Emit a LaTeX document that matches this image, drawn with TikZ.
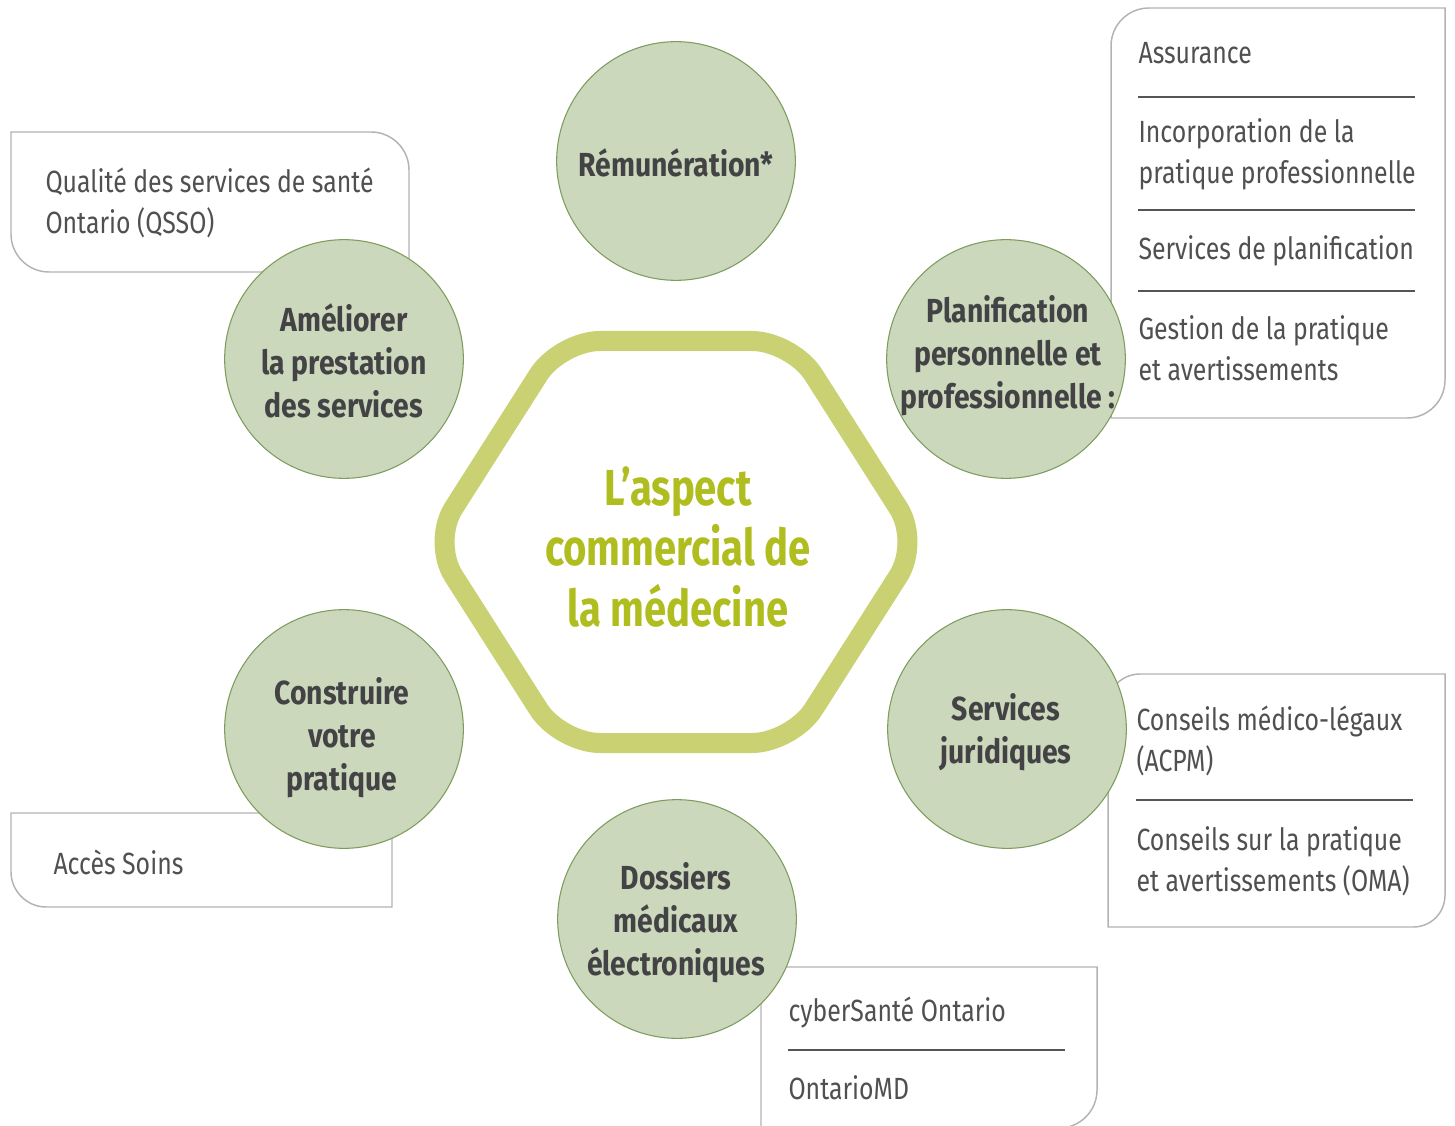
\documentclass[tikz,border=0pt]{standalone}
\usepackage{fontspec}
\setmainfont{Fira Sans}[FakeStretch=0.81]
\newfontfamily\topicfont{Fira Sans}[FakeStretch=0.85]
\newfontfamily\hubfont{Fira Sans}[FakeStretch=0.79]

\definecolor{circfill}{HTML}{CBD8BC}
\definecolor{circline}{HTML}{7E9C5E}
\definecolor{hexline}{HTML}{C9D172}
\definecolor{hextext}{HTML}{AFBD1F}
\definecolor{darktext}{HTML}{434345}
\definecolor{boxtext}{HTML}{505050}
\definecolor{boxgray}{HTML}{B3B3B3}
\definecolor{sepgray}{HTML}{555555}

\tikzset{every picture/.style={line width=0.75pt}}
\tikzset{
  topic/.style={circle, draw=circline, line width=0.8pt, fill=circfill, minimum size=179pt, inner sep=0pt},
  topictext/.style={align=center, inner sep=0pt, text=darktext, font=\topicfont\bfseries\fontsize{25}{32.25}\selectfont},
  item/.style={anchor=west, inner sep=0pt, align=left, text=boxtext, font=\fontsize{23}{30.75}\selectfont},
  panel/.style={draw=boxgray, line width=1.1pt, fill=white},
  rule/.style={draw=sepgray, line width=1pt}
}

\begin{document}
\begin{tikzpicture}[x=0.75pt,y=0.75pt,yscale=-1,xscale=1]
\useasboundingbox (0,0) rectangle (1455,1126);
\clip (0,0) rectangle (1455,1126);

%Shape: Hexagon
\draw [draw=hexline, line width=15pt, rounded corners=30pt] (676,341) -- (792,341) -- (920,542) -- (792,743) -- (560,743) -- (432,542) -- (560,341) -- cycle ;

%Shape: Box QSSO
\draw [panel] (11,132) -- (371,132) .. controls (392,132) and (409,149) .. (409,170) -- (409,272) -- (49,272) .. controls (28,272) and (11,255) .. (11,234) -- cycle ;
%Shape: Box planification
\draw [panel] (1111,46) .. controls (1111,25) and (1128,8) .. (1149,8) -- (1445,8) -- (1445,380) .. controls (1445,401) and (1428,418) .. (1407,418) -- (1111,418) -- cycle ;
%Shape: Box acces
\draw [panel] (11,813) -- (392,813) -- (392,907) -- (46,907) .. controls (27,907) and (11,891) .. (11,872) -- cycle ;
%Shape: Box dossiers
\draw [panel] (761,967) -- (1097,967) -- (1097,1090) .. controls (1097,1111) and (1080,1128) .. (1059,1128) -- (761,1128) -- cycle ;
%Shape: Box juridiques
\draw [panel] (1108,706) .. controls (1108,688) and (1122,674) .. (1140,674) -- (1445,674) -- (1445,895) .. controls (1445,913) and (1431,927) .. (1413,927) -- (1108,927) -- cycle ;

%Separators
\draw [rule] (1138,97) -- (1415,97) ;
\draw [rule] (1138,210) -- (1415,210) ;
\draw [rule] (1138,291) -- (1415,291) ;
\draw [rule] (1136,800) -- (1413,800) ;
\draw [rule] (788,1050) -- (1065,1050) ;

% Box texts
\node [item] (qsso) at (45,203) {Qualité des services de santé\\Ontario (QSSO)};
\node [item] (assur) at (1138,53) {Assurance};
\node [item] (incorp) at (1138,154) {Incorporation de la\\pratique professionnelle};
\node [item] (plan) at (1138,251) {Services de planification};
\node [item] (gest) at (1138,348) {Gestion de la pratique\\et avertissements};
\node [item] (acces) at (53,862) {Accès Soins};
\node [item] (cyber) at (788,1012) {cyberSanté Ontario};
\node [item] (omd) at (788,1088) {OntarioMD};
\node [item] (acpm) at (1136,741) {Conseils médico-légaux\\(ACPM)};
\node [item] (oma) at (1136,861) {Conseils sur la pratique\\et avertissements (OMA)};

% Circles
\node [topic] (remun) at (676,161) {};
\node [topic] (amel) at (344,359) {};
\node [topic] (perso) at (1006,359) {};
\node [topic] (constr) at (344,729) {};
\node [topic] (jurid) at (1007,729) {};
\node [topic] (dme) at (677,919) {};

\node [topictext] (remun-t) at (676,163) {Rémunération*};
\node [topictext] (amel-t) at (344,361) {Améliorer\\la prestation\\des services};
\node [topictext] (perso-t) at (1008,356) {Planification\\personnelle et\\professionnelle :};
\node [topictext] (constr-t) at (342,738) {Construire\\votre\\pratique};
\node [topictext] (jurid-t) at (1006,732) {Services\\juridiques};
\node [topictext] (dme-t) at (676,923) {Dossiers\\médicaux\\électroniques};

% Centre
\node [align=center, text=hextext, font=\hubfont\bfseries\fontsize{38}{45.4}\selectfont] (centre) at (678,547) {L’aspect\\commercial de\\la médecine};

\end{tikzpicture}
\end{document}
